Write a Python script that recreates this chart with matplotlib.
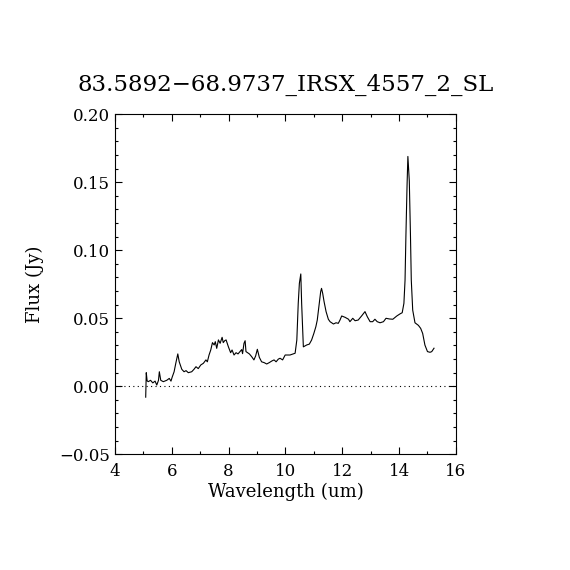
import numpy as np
import matplotlib
matplotlib.use('Agg')
import matplotlib.pyplot as plt
from matplotlib.ticker import MultipleLocator

# spectrum (wavelength in um, flux in Jy)
wave = [5.08, 5.10, 5.13, 5.17, 5.25, 5.33, 5.41, 5.47, 5.53, 5.56, 5.61, 5.70,
        5.82, 5.91, 5.97, 6.01, 6.08, 6.14, 6.21, 6.26, 6.35, 6.43, 6.50, 6.58,
        6.70, 6.78, 6.85, 6.93, 7.02, 7.11, 7.20, 7.25, 7.31, 7.37, 7.43, 7.49,
        7.53, 7.58, 7.64, 7.70, 7.77, 7.81, 7.86, 7.91, 7.99, 8.07, 8.12, 8.19,
        8.26, 8.33, 8.40, 8.46, 8.49, 8.54, 8.58, 8.61, 8.73, 8.81, 8.89, 8.95,
        9.01, 9.08, 9.16, 9.25, 9.34, 9.43, 9.52, 9.60, 9.67, 9.75, 9.81, 9.90,
        9.99, 10.16, 10.34, 10.40, 10.45, 10.49, 10.54, 10.57, 10.61, 10.63, 10.75,
        10.84, 10.92, 11.00, 11.07, 11.12, 11.19, 11.24, 11.27, 11.31, 11.36, 11.43,
        11.51, 11.57, 11.69, 11.78, 11.86, 11.92, 11.98, 12.10, 12.22, 12.27, 12.37,
        12.45, 12.56, 12.68, 12.80, 12.88, 12.98, 13.07, 13.15, 13.23, 13.33, 13.45,
        13.54, 13.66, 13.78, 13.92, 14.03, 14.11, 14.17, 14.21, 14.24, 14.28, 14.31,
        14.36, 14.40, 14.43, 14.48, 14.56, 14.68, 14.76, 14.83, 14.91, 15.00, 15.09,
        15.15, 15.23]
flux = [-0.0080, 0.0100, 0.0040, 0.0034, 0.0044, 0.0025, 0.0038, 0.0009, 0.0044, 0.0107,
        0.0044, 0.0034, 0.0044, 0.0058, 0.0038, 0.0066, 0.0107, 0.0170, 0.0238, 0.0180,
        0.0125, 0.0107, 0.0115, 0.0100, 0.0107, 0.0125, 0.0144, 0.0130, 0.0157, 0.0169,
        0.0194, 0.0180, 0.0230, 0.0267, 0.0321, 0.0304, 0.0328, 0.0279, 0.0341, 0.0316,
        0.0360, 0.0321, 0.0335, 0.0341, 0.0291, 0.0247, 0.0267, 0.0230, 0.0247, 0.0238,
        0.0255, 0.0270, 0.0240, 0.0316, 0.0335, 0.0255, 0.0238, 0.0218, 0.0194, 0.0223,
        0.0272, 0.0213, 0.0180, 0.0174, 0.0164, 0.0174, 0.0186, 0.0194, 0.0180, 0.0200,
        0.0206, 0.0194, 0.0230, 0.0230, 0.0243, 0.0340, 0.0610, 0.0757, 0.0826, 0.0610,
        0.0389, 0.0290, 0.0304, 0.0310, 0.0340, 0.0389, 0.0438, 0.0487, 0.0610, 0.0696,
        0.0720, 0.0684, 0.0622, 0.0549, 0.0493, 0.0475, 0.0458, 0.0467, 0.0463, 0.0487,
        0.0517, 0.0507, 0.0493, 0.0475, 0.0500, 0.0482, 0.0487, 0.0517, 0.0549, 0.0512,
        0.0475, 0.0475, 0.0493, 0.0475, 0.0467, 0.0475, 0.0500, 0.0495, 0.0493, 0.0517,
        0.0532, 0.0541, 0.0610, 0.0780, 0.1100, 0.1470, 0.1690, 0.1510, 0.1120, 0.0780,
        0.0560, 0.0467, 0.0448, 0.0426, 0.0389, 0.0303, 0.0255, 0.0250, 0.0255, 0.0280]

title = '83.5892\u221268.9737_IRSX_4557_2_SL'

plt.rcParams['font.family'] = ['DejaVu Serif']

fig = plt.figure(figsize=(5.7, 5.7), dpi=100)
ax = fig.add_axes([0.2018, 0.203, 0.598, 0.5965])

ax.plot(wave, flux, color='black', linewidth=0.8)
ax.axhline(0.0, color='black', linewidth=0.8, linestyle=(0, (1, 3)))

ax.set_xlim(4, 16)
ax.set_ylim(-0.05, 0.20)
ax.xaxis.set_major_locator(MultipleLocator(2))
ax.xaxis.set_minor_locator(MultipleLocator(1))
ax.yaxis.set_major_locator(MultipleLocator(0.05))
ax.yaxis.set_minor_locator(MultipleLocator(0.01))
ax.yaxis.set_major_formatter(plt.FuncFormatter(lambda v, p: ('%.2f' % v).replace('-', '\u2212')))
ax.tick_params(which='both', direction='in', top=True, right=True, labelsize=12, width=0.8)
ax.tick_params(which='major', length=5)
ax.tick_params(axis='x', which='major', pad=6)
ax.tick_params(which='minor', length=2.5)
for s in ax.spines.values():
    s.set_linewidth(0.8)

ax.set_xlabel('Wavelength (um)', fontsize=13)
ax.set_ylabel('Flux (Jy)', fontsize=13)
ax.xaxis.set_label_coords(0.5, -0.084)
ax.yaxis.set_label_coords(-0.208, 0.5)
ax.set_title(title, fontsize=16.5, pad=17)

fig.savefig('out.png', dpi=100)
